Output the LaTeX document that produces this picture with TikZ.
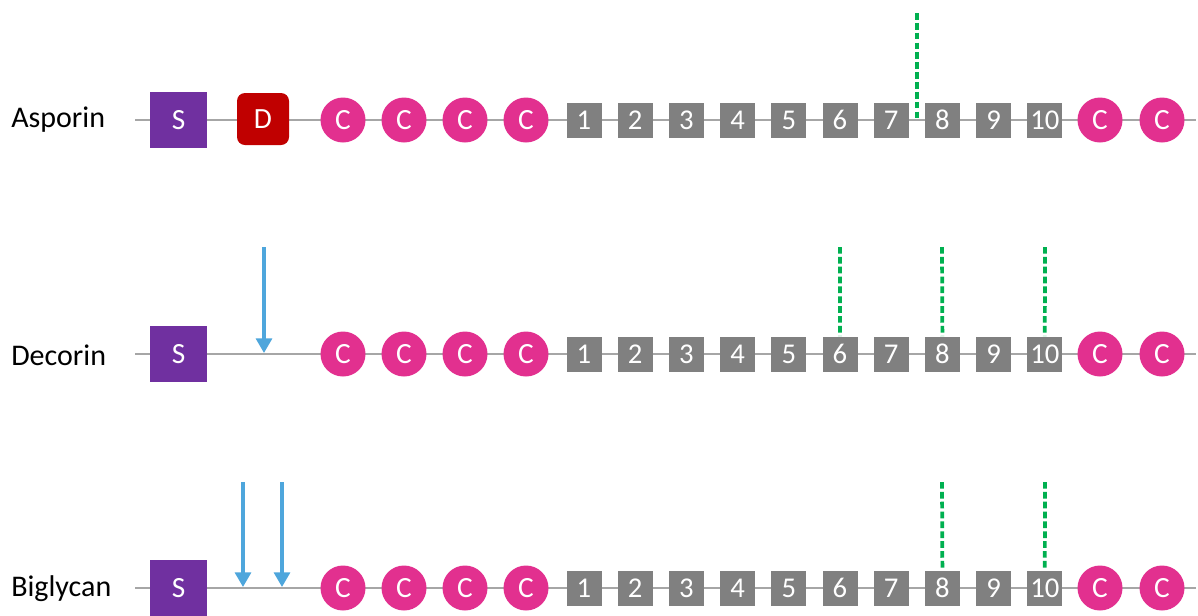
\documentclass[tikz,border=0pt]{standalone}
\usepackage{fontspec}
\setmainfont{Carlito}
\usetikzlibrary{arrows.meta,backgrounds}
\definecolor{spurple}{HTML}{7030A0}
\definecolor{dred}{HTML}{C00000}
\definecolor{cpink}{HTML}{E2308F}
\definecolor{ngray}{HTML}{808080}
\definecolor{lgray}{HTML}{A6A6A6}
\definecolor{gdash}{HTML}{00B050}
\definecolor{ablue}{HTML}{4EA6DC}
\begin{document}
\begin{tikzpicture}[x=0.75pt,y=-0.75pt,
  sbox/.style={fill=spurple,draw=none,minimum width=57*0.75pt,minimum height=56*0.75pt,inner sep=0pt,text=white,font=\fontsize{22}{24}\selectfont},
  dbox/.style={fill=dred,draw=none,rounded corners=6pt,minimum width=52*0.75pt,minimum height=52*0.75pt,inner sep=0pt,text=white,font=\fontsize{22}{24}\selectfont},
  cbox/.style={circle,fill=cpink,draw=none,minimum size=45*0.75pt,inner sep=0pt,text=white,font=\fontsize{22}{24}\selectfont},
  nbox/.style={fill=ngray,draw=none,minimum width=35*0.75pt,minimum height=35*0.75pt,inner sep=0pt,text=white,font=\fontsize{21.5}{23}\selectfont},
  lbl/.style={anchor=west,inner sep=0pt,font=\fontsize{22.5}{26}\selectfont},
  backbone/.style={draw=lgray,line width=1.5pt},
  glyc/.style={draw=ablue,line width=2.4pt,-{Triangle[width=12pt,length=11pt]}},
  cut/.style={draw=gdash,line width=2.8pt,dash pattern=on 5pt off 2.4pt}
]
\useasboundingbox (0,0) rectangle (1198,615);
\foreach \r/\y in {1/120,2/354,3/588} {
  \coordinate (r\r-s) at (135,\y);
  \coordinate (r\r-e) at (1196,\y);
  \node[sbox] (r\r-S) at (178.5,\y) {S};
  \foreach \k/\x in {1/343,2/404,3/465,4/526,5/1100,6/1162}
    \node[cbox] (r\r-c\k) at (\x,\y) {C};
  \foreach \i in {1,...,10}
    \node[nbox] (r\r-n\i) at ({584+51.2*(\i-1)},\y) {\i};
  \begin{scope}[on background layer]
    \draw[backbone] (r\r-s) -- (r\r-e);
  \end{scope}
}
\node[dbox] (r1-D) at (263,119) {D};
\node[lbl] (asp) at (11,120) {Asporin};
\node[lbl] (dec) at (11,355) {Decorin};
\node[lbl] (big) at (11,589) {Biglycan};
% cleavage sites
\coordinate (k1t) at (917,13);
\coordinate (k1b) at (917,118);
\draw[cut] (k1t) -- (k1b);
\coordinate (k2a) at (840,247);
\coordinate (k2b) at (942,247);
\coordinate (k2c) at (1045,247);
\draw[cut] (k2a) -- (r2-n6.north);
\draw[cut] (k2b) -- (r2-n8.north);
\draw[cut] (k2c) -- (r2-n10.north);
\coordinate (k3b) at (942,482);
\coordinate (k3c) at (1045,482);
\draw[cut] (k3b) -- (r3-n8.north);
\draw[cut] (k3c) -- (r3-n10.north);
% glycosylation arrows
\coordinate (g2t) at (264,247);
\coordinate (g2b) at (264,353);
\draw[glyc] (g2t) -- (g2b);
\coordinate (g3at) at (243,482);
\coordinate (g3ab) at (243,587);
\draw[glyc] (g3at) -- (g3ab);
\coordinate (g3bt) at (282,482);
\coordinate (g3bb) at (282,587);
\draw[glyc] (g3bt) -- (g3bb);
\end{tikzpicture}
\end{document}
